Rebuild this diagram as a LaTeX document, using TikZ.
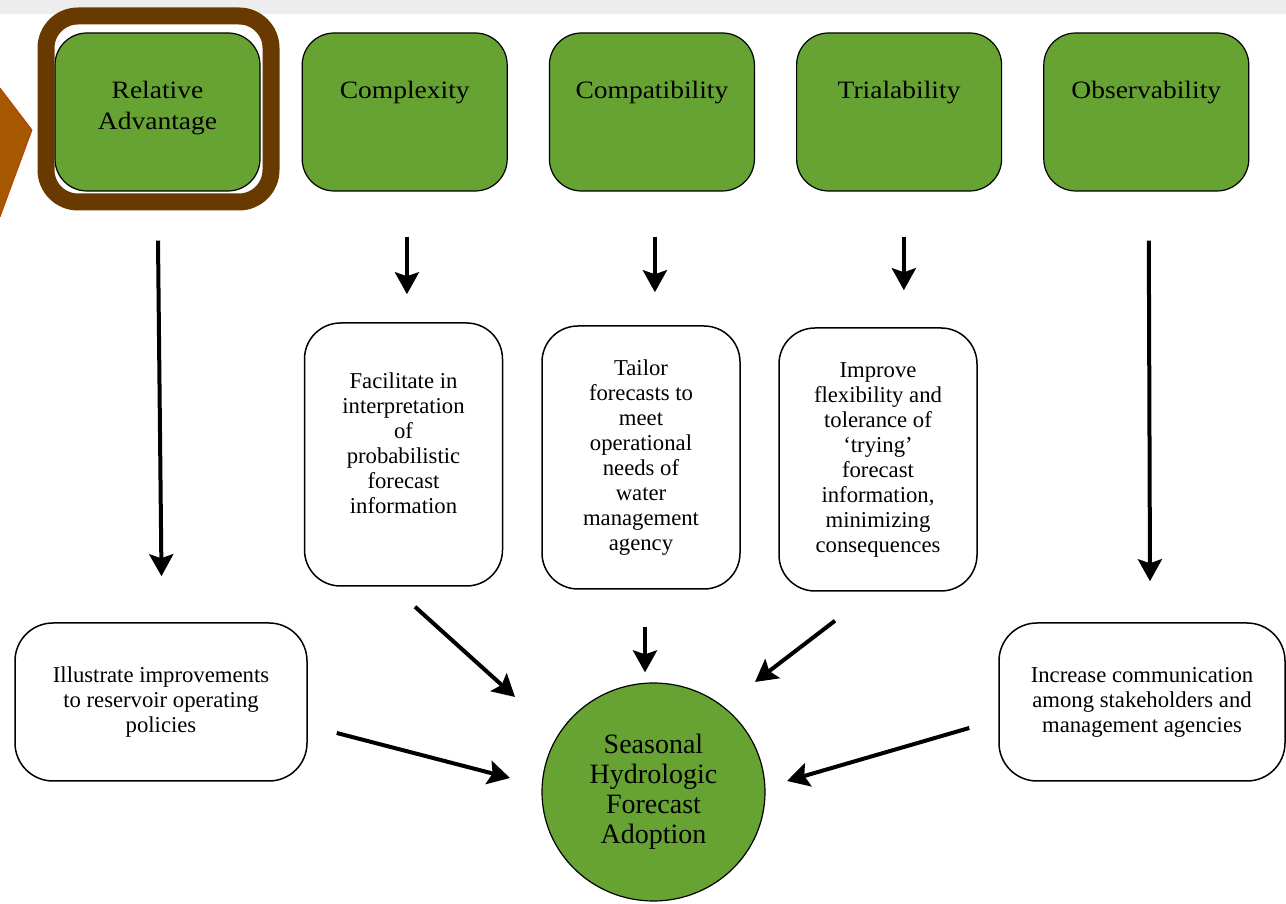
\documentclass[tikz,border=0pt]{standalone}
\usepackage{fontspec}
\setmainfont{Liberation Serif}
\newfontfamily\attrfont[FakeStretch=1.1]{Liberation Serif}
\usepackage{xcolor}
\usepackage{tikz}
\usetikzlibrary{arrows.meta,positioning,calc,shapes.geometric}

\definecolor{attrgreen}{RGB}{102,163,50}
\definecolor{hilite}{RGB}{104,58,0}
\definecolor{chevron}{RGB}{166,88,0}
\definecolor{chevedge}{RGB}{180,62,12}
\definecolor{topbar}{RGB}{237,237,237}

\tikzset{
  attrbox/.style={rectangle,rounded corners=32pt,draw=black,line width=1.2pt,fill=attrgreen,
    minimum width=205pt,minimum height=158pt,inner sep=0pt},
  attrlabel/.style={anchor=north,align=center,inner sep=0pt,
    font=\attrfont\fontsize{25}{31}\selectfont},
  effectbox/.style={rectangle,rounded corners=36pt,draw=black,line width=1.5pt,fill=white,
    align=center,inner sep=0pt,font=\fontsize{22.7}{25}\selectfont},
  effecttext/.style={align=center,inner sep=0pt,font=\fontsize{22.7}{25}\selectfont},
  flow/.style={-{Stealth[length=22pt,width=24pt,inset=4pt]},line width=4pt},
}

\begin{document}
\begin{tikzpicture}[x=1pt,y=1pt]

  \useasboundingbox (0,0) rectangle (1286,904);
  \fill[topbar] (0,890) rectangle (1286,904);
  \fill[chevron] (0,816) -- (32,774) -- (0,687) -- cycle;
  \draw[chevedge,line width=0.8pt] (0,816) -- (32,774) -- (0,687);

  % attributes
  \node (reladv)  [attrbox] at (157.5,792) {};
  \node (cplx)    [attrbox,right=41pt of reladv] {};
  \node (compat)  [attrbox,right=41pt of cplx]   {};
  \node (trial)   [attrbox,right=41pt of compat] {};
  \node (observ)  [attrbox,right=41pt of trial]  {};

  \node (reladvtxt) [attrlabel,below=49pt of reladv.north] {Relative\\Advantage};
  \node (cplxtxt)   [attrlabel,below=49pt of cplx.north]   {Complexity};
  \node (compattxt) [attrlabel,below=49pt of compat.north] {Compatibility};
  \node (trialtxt)  [attrlabel,below=49pt of trial.north]  {Trialability};
  \node (observtxt) [attrlabel,below=49pt of observ.north] {Observability};

  \node (hilitebox) [rectangle,rounded corners=32pt,draw=hilite,line width=17pt,
    minimum width=225pt,minimum height=186pt] at ($(reladv.center)+(1,3)$) {};

  % effects
  \node (facil)   [effectbox,minimum width=198pt,minimum height=263pt] at (403.5,449.5) {};
  \node (faciltxt) [effecttext] at ($(facil.center)+(0,11.5)$)
    {Facilitate in\\interpretation\\of\\probabilistic\\forecast\\information};
  \node (tailor)  [effectbox,minimum width=198pt,minimum height=263pt] at (641,446.5)
    {Tailor\\forecasts to\\meet\\operational\\needs of\\water\\management\\agency};
  \node (improve) [effectbox,minimum width=198pt,minimum height=263pt] at (878,444.5)
    {Improve\\flexibility and\\tolerance of\\‘trying’\\forecast\\information,\\minimizing\\consequences};
  \node (illus)   [effectbox,rounded corners=38pt,minimum width=292pt,minimum height=158pt] at (161,202)
    {Illustrate improvements\\to reservoir operating\\policies};
  \node (incr)    [effectbox,rounded corners=38pt,minimum width=286pt,minimum height=158pt] at (1142,202)
    {Increase communication\\among stakeholders and\\management agencies};

  \node (adopt) [ellipse,draw=black,line width=1.2pt,fill=attrgreen,minimum width=223pt,
    minimum height=218pt,inner sep=0pt,align=center,font=\fontsize{28}{30}\selectfont]
    at (653.5,112) {Seasonal\\Hydrologic\\Forecast\\Adoption};

  \draw[flow] ($(reladv.south)+(0.5,-49)$) -- ($(illus.north)+(0.5,46)$);
  \draw[flow] ($(cplx.south)+(2.25,-45)$)  -- ($(cplx.south |- facil.north)+(2.25,28)$);
  \draw[flow] ($(compat.south)+(3,-45)$)   -- ($(compat.south |- tailor.north)+(3,33)$);
  \draw[flow] ($(trial.south)+(4.75,-45)$) -- ($(trial.south |- improve.north)+(4.75,37)$);
  \draw[flow] ($(observ.south)+(2.5,-49)$) -- ($(incr.north)+(8,41)$);

  \draw[flow] ($(facil.south)+(11.5,-20)$)  -- ($(adopt.center)+(-138.5,95)$);
  \draw[flow] ($(tailor.south)+(4,-37)$)    -- ($(adopt.north)+(-8.5,10)$);
  \draw[flow] ($(improve.south)+(-43,-29)$) -- ($(adopt.center)+(101.5,110)$);
  \draw[flow] ($(illus.east)+(29,-31)$)     -- ($(adopt.center)+(-143.5,14)$);
  \draw[flow] ($(incr.west)+(-29,-26)$)     -- ($(adopt.center)+(133.5,11)$);

\end{tikzpicture}
\end{document}
